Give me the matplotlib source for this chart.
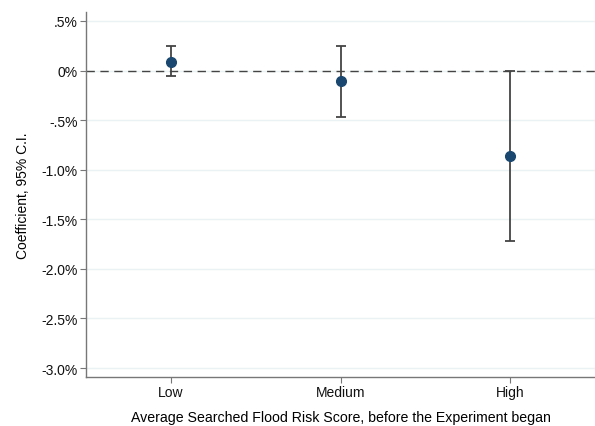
import numpy as np
import matplotlib
matplotlib.use('Agg')
import matplotlib.pyplot as plt

plt.rc('font', family='Liberation Sans', size=10)

categories = ['Low', 'Medium', 'High']
coef = [0.09, -0.11, -0.86]
ci_low = [-0.06, -0.47, -1.72]
ci_high = [0.25, 0.25, 0.00]
yticks = [0.5, 0.0, -0.5, -1.0, -1.5, -2.0, -2.5, -3.0]
yticklabels = ['.5%', '0%', '-.5%', '-1.0%', '-1.5%', '-2.0%', '-2.5%', '-3.0%']

fig = plt.figure(figsize=(5.95, 4.27), dpi=100)
ax = fig.add_axes([86 / 595, 1 - 378 / 427, 1 - 86 / 595, (378 - 13) / 427])

x = np.arange(1, len(categories) + 1)
coef = np.array(coef)
err = np.vstack([coef - np.array(ci_low), np.array(ci_high) - coef])

for yv in yticks:
    ax.axhline(yv, color='#eaf2f3', lw=1, zorder=0)
ax.axhline(0, color='#444444', lw=1, ls=(0, (6, 4)), zorder=1)

ax.errorbar(x, coef, yerr=err, fmt='none', ecolor='#444444', elinewidth=1.3,
            capsize=3.5, capthick=1.3, zorder=2)
ax.plot(x, coef, 'o', color='#1a476f', ms=7, zorder=3)

ax.set_xlim(0.5, 3.5)
ax.set_ylim(-3.09, 0.59)
ax.set_xticks(x)
ax.set_xticklabels(categories)
ax.set_yticks(yticks)
ax.set_yticklabels(yticklabels)

for side in ['top', 'right']:
    ax.spines[side].set_visible(False)
for side in ['left', 'bottom']:
    ax.spines[side].set_color('#777777')
    ax.spines[side].set_linewidth(1)
ax.tick_params(axis='both', direction='out', length=4, color='#777777',
               labelsize=10, labelcolor='#111111', pad=2)

ax.set_xlabel('Average Searched Flood Risk Score, before the Experiment began',
              fontsize=10.2, labelpad=8)
ax.set_ylabel('Coefficient, 95% C.I.', fontsize=10, labelpad=8)

fig.savefig('out.png', dpi=100)
